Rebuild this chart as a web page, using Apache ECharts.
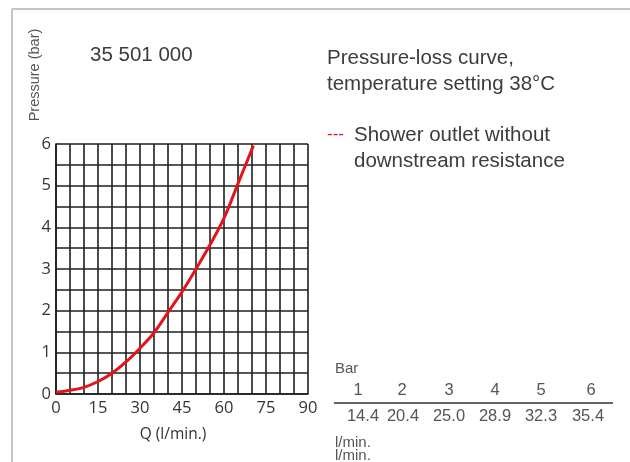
<!DOCTYPE html>
<html><head><meta charset="utf-8">
<script src="https://cdn.jsdelivr.net/npm/echarts@6/dist/echarts.min.js"></script>
<style>html,body{margin:0;padding:0;background:#fff}#c{width:630px;height:462px}</style>
</head><body><div id="c"></div>
<script>
// Curve: flow Q (l/min.) vs pressure (bar)
const flowQ = [0, 5, 10, 15, 20, 25, 30, 35, 40, 45, 50, 55, 60, 65, 70.5];
const pressure = [0.04, 0.09, 0.16, 0.30, 0.50, 0.77, 1.10, 1.47, 1.96, 2.45, 3.0, 3.58, 4.22, 5.05, 5.96];
const xTicks = [0, 15, 30, 45, 60, 75, 90];
const yTicks = [0, 1, 2, 3, 4, 5, 6];
// Table
const barLevels = ['1', '2', '3', '4', '5', '6'];
const flowAtBar = ['14.4', '20.4', '25.0', '28.9', '32.3', '35.4'];

const chart = echarts.init(document.getElementById('c'));
const txt = '#3c3c3c';
const big = '20.5px "Liberation Sans"';
const colX = [358, 402, 449, 495, 541, 591];
const valX = [363, 403, 449, 495, 541, 588];
const graphics = [
  {type:'line', shape:{x1:12,y1:9,x2:630,y2:9}, style:{stroke:'#c4c4c4', lineWidth:2}},
  {type:'line', shape:{x1:12,y1:9,x2:12,y2:462}, style:{stroke:'#c4c4c4', lineWidth:2}},
  {type:'text', x:90, y:55, style:{text:'35 501 000', font:big, fill:txt, verticalAlign:'middle'}},
  {type:'text', x:327, y:58, style:{text:'Pressure-loss curve,', font:big, fill:txt, verticalAlign:'middle'}},
  {type:'text', x:327, y:84, style:{text:'temperature setting 38°C', font:big, fill:txt, verticalAlign:'middle'}},
  {type:'text', x:327, y:134, style:{text:'---', font:'17px "Liberation Sans"', fill:'#e3141b', verticalAlign:'middle'}},
  {type:'text', x:354, y:135, style:{text:'Shower outlet without', font:big, fill:txt, verticalAlign:'middle'}},
  {type:'text', x:354, y:161, style:{text:'downstream resistance', font:big, fill:txt, verticalAlign:'middle'}},
  {type:'text', x:35, y:75, rotation:Math.PI/2, style:{text:'Pressure (bar)', font:'14.5px "Liberation Sans"', fill:'#555', align:'center', verticalAlign:'middle'}},
  {type:'text', x:335, y:369, style:{text:'Bar', font:'15px "Liberation Sans"', fill:'#555', verticalAlign:'middle'}},
  {type:'line', shape:{x1:334,y1:403,x2:613,y2:403}, style:{stroke:'#333', lineWidth:1.5}},
  {type:'text', x:335, y:443, style:{text:'l/min.', font:'15px "Liberation Sans"', fill:'#555', verticalAlign:'middle'}},
  {type:'text', x:335, y:456, style:{text:'l/min.', font:'15px "Liberation Sans"', fill:'#555', verticalAlign:'middle'}}
];
barLevels.forEach((b,i)=>graphics.push({type:'text', x:colX[i], y:390, style:{text:b, font:'16.5px "Liberation Sans"', fill:'#555', align:'center', verticalAlign:'middle'}}));
flowAtBar.forEach((v,i)=>graphics.push({type:'text', x:valX[i], y:416, style:{text:v, font:'16.5px "Liberation Sans"', fill:'#555', align:'center', verticalAlign:'middle'}}));

chart.setOption({
  animation:false,
  grid:{left:56, top:144, width:252, height:250, containLabel:false},
  xAxis:{type:'value', min:0, max:90, interval:15,
    name:'Q (l/min.)', nameLocation:'middle', nameGap:33,
    nameTextStyle:{fontFamily:'Open Sans', fontSize:15.5, color:'#333', padding:[0,18,0,0]},
    axisLine:{show:true, lineStyle:{color:'#1e1e1e', width:1.6}},
    axisTick:{show:false},
    axisLabel:{fontFamily:'Open Sans', fontSize:16.5, color:'#333', margin:6,
      formatter:v=> xTicks.includes(v)? String(v):''},
    splitLine:{show:true, lineStyle:{color:'#1e1e1e', width:1.6}},
    minorTick:{show:false, splitNumber:3},
    minorSplitLine:{show:true, lineStyle:{color:'#1e1e1e', width:1.6}}
  },
  yAxis:{type:'value', min:0, max:6, interval:1,
    axisLine:{show:true, lineStyle:{color:'#1e1e1e', width:1.6}},
    axisTick:{show:false},
    axisLabel:{fontFamily:'Open Sans', fontSize:16.5, color:'#333', margin:5,
      formatter:v=> yTicks.includes(v)? String(v):''},
    splitLine:{show:true, lineStyle:{color:'#1e1e1e', width:1.6}},
    minorTick:{show:false, splitNumber:2},
    minorSplitLine:{show:true, lineStyle:{color:'#1e1e1e', width:1.6}}
  },
  series:[{type:'line', data:flowQ.map((q,i)=>[q,pressure[i]]), smooth:0.35, showSymbol:false,
    lineStyle:{color:'#e3141b', width:3}, z:5}],
  graphic:graphics
});
</script></body></html>
